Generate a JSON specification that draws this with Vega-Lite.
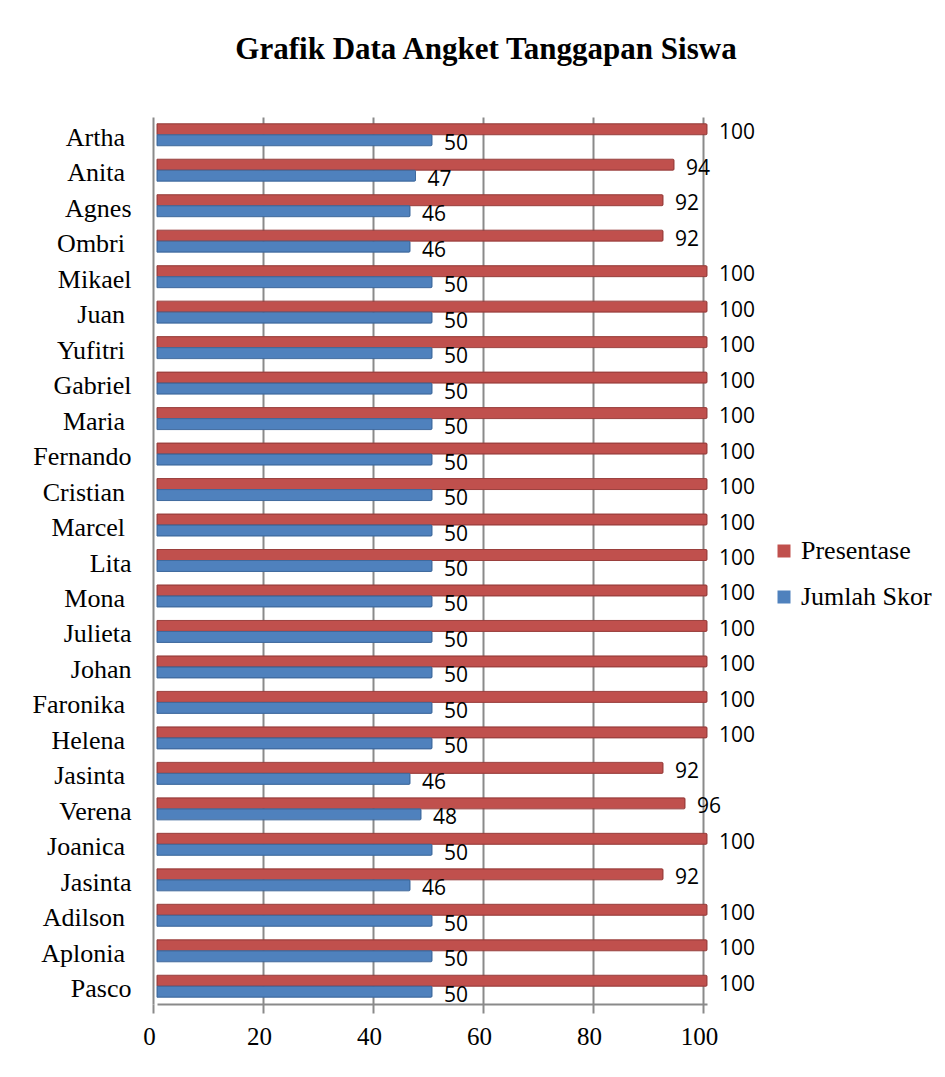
{
  "$schema": "https://vega.github.io/schema/vega-lite/v6.json",
  "autosize": {"type": "none"},
  "padding": {"left": 157, "top": 117, "right": 238, "bottom": 73},
  "width": 550,
  "height": 887,
  "background": "white",
  "title": {
    "text": "Grafik Data Angket Tanggapan Siswa",
    "font": "Liberation Serif",
    "fontSize": 31,
    "fontWeight": "bold",
    "color": "black",
    "anchor": "middle",
    "frame": "group",
    "baseline": "alphabetic",
    "offset": 27,
    "dx": 54
  },
  "data": {
    "values": [
      {"nama": "Artha\u2005\u200b", "seri": "Presentase", "nilai": 100},
      {"nama": "Artha\u2005\u200b", "seri": "Jumlah Skor", "nilai": 50},
      {"nama": "Anita\u2005\u200b", "seri": "Presentase", "nilai": 94},
      {"nama": "Anita\u2005\u200b", "seri": "Jumlah Skor", "nilai": 47},
      {"nama": "Agnes", "seri": "Presentase", "nilai": 92},
      {"nama": "Agnes", "seri": "Jumlah Skor", "nilai": 46},
      {"nama": "Ombri\u2005\u200b", "seri": "Presentase", "nilai": 92},
      {"nama": "Ombri\u2005\u200b", "seri": "Jumlah Skor", "nilai": 46},
      {"nama": "Mikael", "seri": "Presentase", "nilai": 100},
      {"nama": "Mikael", "seri": "Jumlah Skor", "nilai": 50},
      {"nama": "Juan\u2005\u200b", "seri": "Presentase", "nilai": 100},
      {"nama": "Juan\u2005\u200b", "seri": "Jumlah Skor", "nilai": 50},
      {"nama": "Yufitri\u2005\u200b", "seri": "Presentase", "nilai": 100},
      {"nama": "Yufitri\u2005\u200b", "seri": "Jumlah Skor", "nilai": 50},
      {"nama": "Gabriel", "seri": "Presentase", "nilai": 100},
      {"nama": "Gabriel", "seri": "Jumlah Skor", "nilai": 50},
      {"nama": "Maria\u2005\u200b", "seri": "Presentase", "nilai": 100},
      {"nama": "Maria\u2005\u200b", "seri": "Jumlah Skor", "nilai": 50},
      {"nama": "Fernando", "seri": "Presentase", "nilai": 100},
      {"nama": "Fernando", "seri": "Jumlah Skor", "nilai": 50},
      {"nama": "Cristian\u2005\u200b", "seri": "Presentase", "nilai": 100},
      {"nama": "Cristian\u2005\u200b", "seri": "Jumlah Skor", "nilai": 50},
      {"nama": "Marcel\u2005\u200b", "seri": "Presentase", "nilai": 100},
      {"nama": "Marcel\u2005\u200b", "seri": "Jumlah Skor", "nilai": 50},
      {"nama": "Lita", "seri": "Presentase", "nilai": 100},
      {"nama": "Lita", "seri": "Jumlah Skor", "nilai": 50},
      {"nama": "Mona\u2005\u200b", "seri": "Presentase", "nilai": 100},
      {"nama": "Mona\u2005\u200b", "seri": "Jumlah Skor", "nilai": 50},
      {"nama": "Julieta", "seri": "Presentase", "nilai": 100},
      {"nama": "Julieta", "seri": "Jumlah Skor", "nilai": 50},
      {"nama": "Johan", "seri": "Presentase", "nilai": 100},
      {"nama": "Johan", "seri": "Jumlah Skor", "nilai": 50},
      {"nama": "Faronika\u2005\u200b", "seri": "Presentase", "nilai": 100},
      {"nama": "Faronika\u2005\u200b", "seri": "Jumlah Skor", "nilai": 50},
      {"nama": "Helena\u2005\u200b", "seri": "Presentase", "nilai": 100},
      {"nama": "Helena\u2005\u200b", "seri": "Jumlah Skor", "nilai": 50},
      {"nama": "Jasinta\u2005\u200b", "seri": "Presentase", "nilai": 92},
      {"nama": "Jasinta\u2005\u200b", "seri": "Jumlah Skor", "nilai": 46},
      {"nama": "Verena", "seri": "Presentase", "nilai": 96},
      {"nama": "Verena", "seri": "Jumlah Skor", "nilai": 48},
      {"nama": "Joanica\u2005\u200b", "seri": "Presentase", "nilai": 100},
      {"nama": "Joanica\u2005\u200b", "seri": "Jumlah Skor", "nilai": 50},
      {"nama": "Jasinta", "seri": "Presentase", "nilai": 92},
      {"nama": "Jasinta", "seri": "Jumlah Skor", "nilai": 46},
      {"nama": "Adilson\u2005\u200b", "seri": "Presentase", "nilai": 100},
      {"nama": "Adilson\u2005\u200b", "seri": "Jumlah Skor", "nilai": 50},
      {"nama": "Aplonia\u2005\u200b", "seri": "Presentase", "nilai": 100},
      {"nama": "Aplonia\u2005\u200b", "seri": "Jumlah Skor", "nilai": 50},
      {"nama": "Pasco", "seri": "Presentase", "nilai": 100},
      {"nama": "Pasco", "seri": "Jumlah Skor", "nilai": 50}
    ]
  },
  "encoding": {
    "y": {
      "field": "nama",
      "type": "nominal",
      "sort": null,
      "scale": {"paddingInner": 0.38, "paddingOuter": 0.19},
      "axis": {
        "title": null,
        "domain": false,
        "ticks": false,
        "labelFont": "Liberation Serif",
        "labelFontSize": 26,
        "labelColor": "black",
        "labelPadding": 26,
        "labelOffset": 3
      }
    },
    "x": {
      "field": "nilai",
      "type": "quantitative",
      "scale": {"domain": [0, 100], "nice": false},
      "axis": {
        "title": null,
        "values": [0, 20, 40, 60, 80, 100],
        "grid": true,
        "gridColor": "#8a8a8a",
        "gridWidth": 2,
        "domain": true,
        "domainColor": "#8a8a8a",
        "domainWidth": 2,
        "ticks": true,
        "tickColor": "#8a8a8a",
        "tickWidth": 2,
        "tickSize": 9,
        "tickOffset": -4,
        "labelOffset": -4,
        "labelFont": "Liberation Serif",
        "labelFontSize": 25,
        "labelColor": "black",
        "labelPadding": 11,
        "labelFlush": false
      }
    },
    "yOffset": {
      "field": "seri",
      "type": "nominal",
      "sort": ["Presentase", "Jumlah Skor"]
    }
  },
  "layer": [
    {
      "mark": {"type": "bar", "cornerRadiusEnd": 1},
      "encoding": {
        "color": {
          "field": "seri",
          "type": "nominal",
          "scale": {"domain": ["Presentase", "Jumlah Skor"], "range": ["#C0504D", "#4F81BD"]},
          "legend": {
            "title": null,
            "orient": "none",
            "legendX": 614,
            "legendY": 421,
            "symbolType": "square",
            "symbolSize": 169,
            "symbolStrokeWidth": 0,
            "labelFont": "Liberation Serif",
            "labelFontSize": 26,
            "labelColor": "black",
            "labelOffset": 4,
            "rowPadding": 20
          }
        },
        "stroke": {
          "field": "seri",
          "type": "nominal",
          "scale": {"domain": ["Presentase", "Jumlah Skor"], "range": ["#9a3f3d", "#3f6a9e"]},
          "legend": null
        },
        "strokeWidth": {"value": 1}
      }
    },
    {
      "mark": {
        "type": "text",
        "align": "left",
        "baseline": "middle",
        "dx": 12,
        "dy": 4,
        "font": "Open Sans",
        "fontSize": 21,
        "color": "black"
      },
      "encoding": {
        "text": {"field": "nilai", "type": "quantitative"}
      }
    }
  ],
  "config": {
    "view": {"stroke": null}
  }
}
